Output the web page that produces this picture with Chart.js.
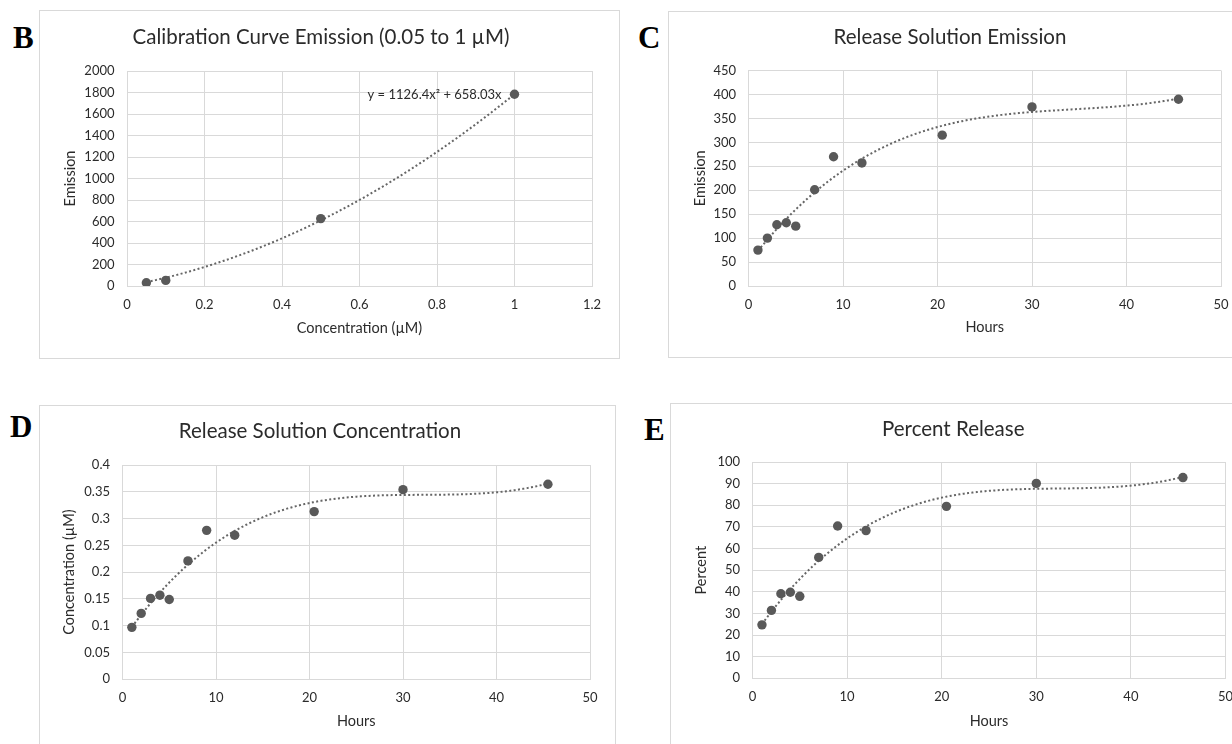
<!DOCTYPE html>
<html>
<head>
<meta charset="utf-8">
<script src="https://cdn.jsdelivr.net/npm/chart.js@4.4.1/dist/chart.umd.min.js"></script>
<style>
  html, body { margin: 0; padding: 0; background: #fff; width: 1232px; height: 744px; overflow: hidden; }
  .frame { position: absolute; border: 1px solid #d9d9d9; box-sizing: border-box; background: #fff; }
  canvas { position: absolute; }
  .letter { position: absolute; font-family: "Liberation Serif", "Times New Roman", serif; font-weight: bold;
            font-size: 31px; line-height: 31px; color: #000; }
</style>
</head>
<body>
<div class="frame" style="left:39px;top:10px;width:581px;height:349px;"></div>
<div class="frame" style="left:668px;top:11px;width:600px;height:347px;"></div>
<div class="frame" style="left:39px;top:405px;width:577px;height:360px;"></div>
<div class="frame" style="left:670px;top:403px;width:600px;height:360px;"></div>

<div class="letter" style="left:13px;top:22px;">B</div>
<div class="letter" style="left:638px;top:22px;">C</div>
<div class="letter" style="left:10px;top:411px;">D</div>
<div class="letter" style="left:644px;top:414px;">E</div>

<canvas id="chartB" width="579" height="348" style="left:40px;top:10px;"></canvas>
<canvas id="chartC" width="576" height="346" style="left:669px;top:11px;"></canvas>
<canvas id="chartD" width="575" height="360" style="left:40px;top:405px;"></canvas>
<canvas id="chartE" width="580" height="360" style="left:671px;top:403px;"></canvas>

<script>
// Calibration standards (µM) and their measured emission
const calibConc = [0.05, 0.1, 0.5, 1];
const calibEmission = [30, 52, 627, 1784];
// Quadratic trendline through the origin: y = 1126.4x² + 658.03x
const calibQuad = 1126.4;
const calibLin = 658.03;
const calibEquation = 'y = 1126.4x² + 658.03x';

// Release study sampling times (hours)
const hours = [1, 2, 3, 4, 5, 7, 9, 12, 20.5, 30, 45.5];
const releaseEmission = [75, 100, 128, 132, 125, 201, 270, 257, 315, 374, 390];
const releaseConc = [0.097, 0.123, 0.151, 0.157, 0.149, 0.221, 0.278, 0.269, 0.313, 0.354, 0.364];
const percentRelease = [24.7, 31.4, 39.1, 39.8, 37.9, 55.9, 70.4, 68.3, 79.5, 90.1, 92.8];

// Axis tick labels
const calibConcTicks = ['0', '0.2', '0.4', '0.6', '0.8', '1', '1.2'];
const calibEmissionTicks = ['0', '200', '400', '600', '800', '1000', '1200', '1400', '1600', '1800', '2000'];
const hourTicks = ['0', '10', '20', '30', '40', '50'];
const emissionTicks = ['0', '50', '100', '150', '200', '250', '300', '350', '400', '450'];
const concTicks = ['0', '0.05', '0.1', '0.15', '0.2', '0.25', '0.3', '0.35', '0.4'];
const percentTicks = ['0', '10', '20', '30', '40', '50', '60', '70', '80', '90', '100'];

const FONT = 'Lato, "Open Sans", sans-serif';
const TEXT = '#2b2b2b';
const GRID = '#d9d9d9';
const MARK = '#595959';
const TITLE_SIZE = 20.5;
const AXIS_TITLE_SIZE = 14.5;
const TICK_SIZE = 13;

// Least-squares polynomial fit; returns coefficients in ascending order
function polyFit(xs, ys, deg) {
  const n = deg + 1;
  const A = [];
  for (let i = 0; i < n; i++) {
    A.push(new Array(n + 1).fill(0));
    for (let j = 0; j < n; j++) {
      A[i][j] = xs.reduce((s, x) => s + Math.pow(x, i + j), 0);
    }
    A[i][n] = xs.reduce((s, x, k) => s + ys[k] * Math.pow(x, i), 0);
  }
  for (let c = 0; c < n; c++) {
    let p = c;
    for (let r = c + 1; r < n; r++) if (Math.abs(A[r][c]) > Math.abs(A[p][c])) p = r;
    [A[c], A[p]] = [A[p], A[c]];
    for (let r = 0; r < n; r++) {
      if (r === c) continue;
      const f = A[r][c] / A[c][c];
      for (let k = c; k <= n; k++) A[r][k] -= f * A[c][k];
    }
  }
  return A.map((row, i) => row[n] / row[i]);
}

function curve(coef, x0, x1, steps) {
  const pts = [];
  for (let i = 0; i <= steps; i++) {
    const x = x0 + (x1 - x0) * i / steps;
    pts.push({ x, y: coef.reduce((s, c, k) => s + c * Math.pow(x, k), 0) });
  }
  return pts;
}

function pairs(xs, ys) { return xs.map((x, i) => ({ x, y: ys[i] })); }

function axis(labels, titleText, titlePad, fixSize, horizontal, tickPad) {
  return {
    type: 'linear',
    min: parseFloat(labels[0]),
    max: parseFloat(labels[labels.length - 1]),
    afterBuildTicks: s => { s.ticks = labels.map(v => ({ value: parseFloat(v) })); },
    afterFit: s => { if (horizontal) s.height = fixSize; else s.width = fixSize; },
    grid: { color: GRID, lineWidth: 1, drawTicks: false },
    border: { color: GRID, width: 1 },
    ticks: {
      padding: tickPad,
      color: TEXT,
      font: { family: FONT, size: TICK_SIZE },
      autoSkip: false,
      maxRotation: 0,
      callback: (v, i) => labels[i]
    },
    title: {
      display: true,
      text: titleText,
      color: TEXT,
      font: { family: FONT, size: AXIS_TITLE_SIZE },
      padding: titlePad
    }
  };
}

function makePanel(id, p) {
  const TS = TITLE_SIZE, AS = AXIS_TITLE_SIZE;
  const pl = 10;
  const titleTop = p.titleCY - TS * 0.6;
  const xAxisH = p.xTitleCY + AS * 0.6 - p.area.b;
  const pb = p.h - p.area.b - xAxisH;
  const yTitleTop = p.yTitleCX - pl - AS * 0.6;
  const datasets = [
    {
      data: p.points,
      pointRadius: 4.7,
      pointHoverRadius: 4.7,
      pointBackgroundColor: MARK,
      pointBorderWidth: 0,
      showLine: false,
      order: 0
    },
    {
      data: p.trend,
      showLine: true,
      pointRadius: 0,
      borderColor: '#666666',
      borderWidth: 2,
      borderDash: [2, 2.4],
      borderCapStyle: 'butt',
      tension: 0,
      fill: false,
      order: 1
    }
  ];
  return new Chart(document.getElementById(id), {
    type: 'scatter',
    data: { datasets },
    options: {
      responsive: false,
      animation: false,
      devicePixelRatio: 1,
      layout: { padding: { left: pl, right: p.w - p.area.r, top: 0, bottom: pb } },
      plugins: {
        legend: { display: false },
        tooltip: { enabled: false },
        title: {
          display: true,
          text: p.title,
          color: TEXT,
          font: { family: FONT, size: TS, weight: 'normal' },
          padding: { top: titleTop, bottom: p.area.t - titleTop - TS * 1.2 }
        }
      },
      scales: {
        x: axis(p.xTicks, p.xLabel, { top: 0, bottom: 0 }, xAxisH, true, 11),
        y: axis(p.yTicks, p.yLabel, { top: yTitleTop, bottom: 0 }, p.area.l - pl, false, 12.5)
      }
    },
    plugins: p.plugins || []
  });
}

// Equation label beside the top calibration point
const equationLabel = {
  id: 'equationLabel',
  afterDatasetsDraw(chart) {
    const meta = chart.getDatasetMeta(0);
    const last = meta.data[meta.data.length - 1];
    const ctx = chart.ctx;
    ctx.save();
    ctx.font = '13px ' + FONT;
    ctx.fillStyle = TEXT;
    ctx.textAlign = 'right';
    ctx.textBaseline = 'middle';
    ctx.fillText(calibEquation, last.x - 13, last.y + 1);
    ctx.restore();
  }
};

const hourMin = Math.min(...hours), hourMax = Math.max(...hours);

makePanel('chartB', {
  w: 579, h: 348, area: { l: 87, t: 61, r: 552, b: 276 },
  titleCY: 27, yTitleCX: 30, xTitleCY: 318,
  title: 'Calibration Curve Emission (0.05 to 1 µM)',
  xTicks: calibConcTicks, yTicks: calibEmissionTicks,
  xLabel: 'Concentration (µM)', yLabel: 'Emission',
  points: pairs(calibConc, calibEmission),
  trend: curve([0, calibLin, calibQuad], Math.min(...calibConc), Math.max(...calibConc), 120),
  plugins: [equationLabel]
});

makePanel('chartC', {
  w: 576, h: 346, area: { l: 79.5, t: 59.5, r: 552, b: 275 },
  titleCY: 26, yTitleCX: 31, xTitleCY: 316,
  title: 'Release Solution Emission',
  xTicks: hourTicks, yTicks: emissionTicks,
  xLabel: 'Hours', yLabel: 'Emission',
  points: pairs(hours, releaseEmission),
  trend: curve(polyFit(hours, releaseEmission, 3), hourMin, hourMax, 200)
});

makePanel('chartD', {
  w: 575, h: 360, area: { l: 82.5, t: 60, r: 550, b: 274.3 },
  titleCY: 26.7, yTitleCX: 29, xTitleCY: 316.7,
  title: 'Release Solution Concentration',
  xTicks: hourTicks, yTicks: concTicks,
  xLabel: 'Hours', yLabel: 'Concentration (µM)',
  points: pairs(hours, releaseConc),
  trend: curve(polyFit(hours, releaseConc, 3), hourMin, hourMax, 200)
});

makePanel('chartE', {
  w: 580, h: 360, area: { l: 81.5, t: 59, r: 554.5, b: 275.3 },
  titleCY: 26.3, yTitleCX: 30, xTitleCY: 318,
  title: 'Percent Release',
  xTicks: hourTicks, yTicks: percentTicks,
  xLabel: 'Hours', yLabel: 'Percent',
  points: pairs(hours, percentRelease),
  trend: curve(polyFit(hours, percentRelease, 3), hourMin, hourMax, 200)
});
</script>
</body>
</html>
